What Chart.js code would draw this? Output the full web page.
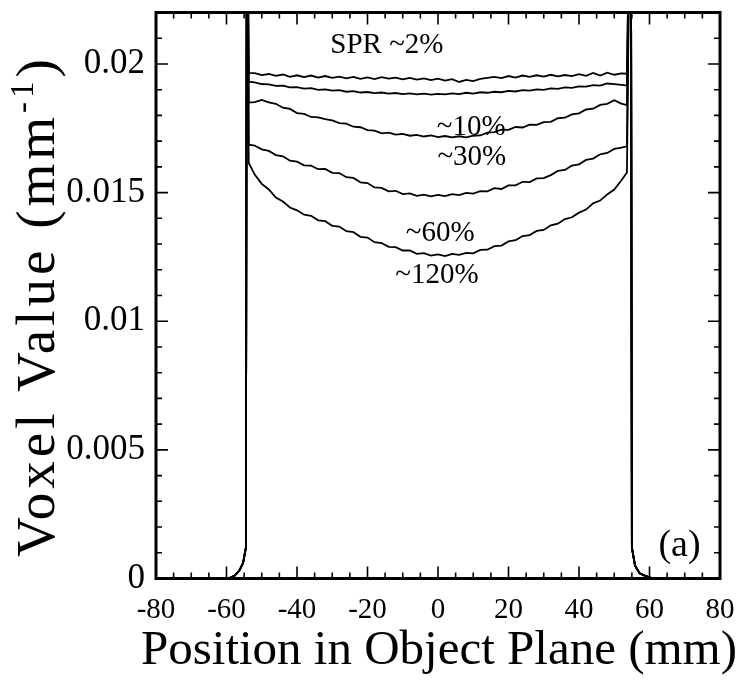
<!DOCTYPE html>
<html>
<head>
<meta charset="utf-8">
<script src="https://cdn.jsdelivr.net/npm/chart.js@4"></script>
<style>
  html, body { margin: 0; background: #fff; }
</style>
</head>
<body>
<canvas id="chart" width="742" height="687"></canvas>
<script>
// position across the object (mm), interior samples
const xPos = [-52, -50, -48, -46, -44, -42, -40, -38, -36, -34, -32, -30, -28, -26, -24, -22, -20, -18,
  -16, -14, -12, -10, -8, -6, -4, -2, 0, 2, 4, 6, 8, 10, 12, 14, 16, 18, 20, 22, 24, 26, 28, 30, 32, 34,
  36, 38, 40, 42, 44, 46, 48, 50, 52];

// voxel values (mm^-1)
const spr2 = [0.01964, 0.01957, 0.01961, 0.01954, 0.01959, 0.01950, 0.01956, 0.01949, 0.01955, 0.01947,
  0.01953, 0.01946, 0.01951, 0.01944, 0.01950, 0.01942, 0.01948, 0.01941, 0.01949, 0.01943, 0.01947,
  0.01940, 0.01946, 0.01939, 0.01944, 0.01937, 0.01943, 0.01935, 0.01941, 0.01930, 0.01938, 0.01933,
  0.01942, 0.01946, 0.01950, 0.01945, 0.01953, 0.01947, 0.01955, 0.01950, 0.01956, 0.01951, 0.01958,
  0.01952, 0.01957, 0.01953, 0.01960, 0.01954, 0.01965, 0.01955, 0.01966, 0.01958, 0.01963];
const spr10 = [0.01928, 0.01922, 0.01921, 0.01915, 0.01916, 0.01909, 0.01910, 0.01904, 0.01906, 0.01899,
  0.01901, 0.01896, 0.01898, 0.01892, 0.01894, 0.01889, 0.01891, 0.01887, 0.01889, 0.01885, 0.01887,
  0.01883, 0.01886, 0.01882, 0.01885, 0.01881, 0.01884, 0.01882, 0.01886, 0.01883, 0.01888, 0.01885,
  0.01890, 0.01888, 0.01892, 0.01890, 0.01895, 0.01893, 0.01898, 0.01896, 0.01901, 0.01899, 0.01905,
  0.01903, 0.01909, 0.01907, 0.01913, 0.01912, 0.01918, 0.01916, 0.01924, 0.01922, 0.01919];
const spr30 = [0.01852, 0.01860, 0.01851, 0.01845, 0.01830, 0.01825, 0.01809, 0.01806, 0.01794, 0.01792,
  0.01786, 0.01781, 0.01770, 0.01768, 0.01756, 0.01754, 0.01743, 0.01741, 0.01730, 0.01733, 0.01725,
  0.01728, 0.01721, 0.01724, 0.01718, 0.01722, 0.01716, 0.01720, 0.01715, 0.01719, 0.01715, 0.01721,
  0.01722, 0.01733, 0.01735, 0.01745, 0.01744, 0.01755, 0.01753, 0.01764, 0.01763, 0.01774, 0.01775,
  0.01789, 0.01791, 0.01804, 0.01808, 0.01823, 0.01826, 0.01841, 0.01845, 0.01859, 0.01846];
const spr60 = [0.01683, 0.01668, 0.01662, 0.01646, 0.01641, 0.01624, 0.01620, 0.01606, 0.01605, 0.01591,
  0.01592, 0.01577, 0.01576, 0.01560, 0.01557, 0.01540, 0.01537, 0.01520, 0.01518, 0.01505, 0.01507,
  0.01494, 0.01497, 0.01487, 0.01492, 0.01485, 0.01491, 0.01486, 0.01494, 0.01490, 0.01499, 0.01496,
  0.01506, 0.01505, 0.01517, 0.01514, 0.01528, 0.01528, 0.01542, 0.01541, 0.01555, 0.01556, 0.01568,
  0.01584, 0.01588, 0.01605, 0.01610, 0.01627, 0.01632, 0.01649, 0.01654, 0.01670, 0.01675];
const spr120 = [0.01570, 0.01534, 0.01512, 0.01481, 0.01465, 0.01442, 0.01431, 0.01414, 0.01410, 0.01392,
  0.01389, 0.01371, 0.01368, 0.01350, 0.01346, 0.01328, 0.01325, 0.01307, 0.01304, 0.01289, 0.01288,
  0.01275, 0.01275, 0.01262, 0.01265, 0.01255, 0.01260, 0.01253, 0.01262, 0.01258, 0.01266, 0.01264,
  0.01277, 0.01278, 0.01292, 0.01294, 0.01310, 0.01315, 0.01331, 0.01335, 0.01351, 0.01355, 0.01373,
  0.01379, 0.01397, 0.01404, 0.01422, 0.01434, 0.01458, 0.01469, 0.01493, 0.01512, 0.01547];

// values just inside each edge of the object
const edgeLeftX = -53.7, edgeRightX = 53.6;
const edgeLeft = [0.01965, 0.01931, 0.01850, 0.01686, 0.01615];
const edgeRight = [0.01962, 0.01916, 0.01840, 0.01680, 0.01578];

// air outside the object and the edge overshoot (goes off the top)
const footLeftX = [-80, -59.5, -57.8, -56.4, -55.3, -54.5, -54.2];
const footLeftY = [0, 0, 0.0001, 0.0003, 0.0006, 0.0012, 0.03];
const footRightX = [54.7, 55.0, 55.9, 57.2, 58.8, 61, 80];
const footRightY = [0.03, 0.0012, 0.0005, 0.0002, 0.0001, 0, 0];

const seriesNames = ['SPR ~2%', '~10%', '~30%', '~60%', '~120%'];
const seriesValues = [spr2, spr10, spr30, spr60, spr120];

// axis ticks
const xMajor = [-80, -60, -40, -20, 0, 20, 40, 60, 80];
const xMinor = [-75, -70, -65, -55, -50, -45, -35, -30, -25, -15, -10, -5, 5, 10, 15, 25, 30, 35, 45, 50, 55, 65, 70, 75];
const yMajor = [0, 0.005, 0.01, 0.015, 0.02];
const yMinor = [0.001, 0.002, 0.003, 0.004, 0.006, 0.007, 0.008, 0.009, 0.011, 0.012, 0.013, 0.014,
  0.016, 0.017, 0.018, 0.019, 0.021];

// curve labels: text, x (mm), y (value), font size
const labels = [
  ['SPR ~2%', -14.5, 0.02071, 29],
  ['~10%', 9.4, 0.01753, 29],
  ['~30%', 9.6, 0.01636, 29],
  ['~60%', 0.6, 0.01341, 29],
  ['~120%', -0.3, 0.01178, 29],
  ['(a)', 68.5, 0.00128, 38]
];

const xTitle = 'Position in Object Plane (mm)';
const yTitle = 'Voxel Value (mm';

const SERIF = '"Liberation Serif", "DejaVu Serif", serif';

function buildPoints(i) {
  const pts = [];
  footLeftX.forEach((x, k) => pts.push({ x: x, y: footLeftY[k] }));
  pts.push({ x: edgeLeftX, y: edgeLeft[i] });
  xPos.forEach((x, k) => pts.push({ x: x, y: seriesValues[i][k] }));
  pts.push({ x: edgeRightX, y: edgeRight[i] });
  footRightX.forEach((x, k) => pts.push({ x: x, y: footRightY[k] }));
  return pts;
}

const frameAndText = {
  id: 'frameAndText',
  afterDatasetsDraw(chart) {
    const ctx = chart.ctx;
    const a = chart.chartArea;
    const xs = chart.scales.x, ys = chart.scales.y;
    ctx.save();
    ctx.strokeStyle = '#000';
    // inward ticks on all four sides
    ctx.lineWidth = 1.6;
    const tickX = (vals, len) => vals.forEach(v => {
      const p = xs.getPixelForValue(v);
      ctx.beginPath();
      ctx.moveTo(p, a.bottom); ctx.lineTo(p, a.bottom - len);
      ctx.moveTo(p, a.top); ctx.lineTo(p, a.top + len);
      ctx.stroke();
    });
    const tickY = (vals, len) => vals.forEach(v => {
      const p = ys.getPixelForValue(v);
      ctx.beginPath();
      ctx.moveTo(a.left, p); ctx.lineTo(a.left + len, p);
      ctx.moveTo(a.right, p); ctx.lineTo(a.right - len, p);
      ctx.stroke();
    });
    tickX(xMajor, 12); tickX(xMinor, 6);
    tickY(yMajor, 12); tickY(yMinor, 6);
    // frame
    ctx.lineWidth = 3;
    ctx.strokeRect(a.left, a.top, a.right - a.left, a.bottom - a.top);

    // curve labels
    ctx.fillStyle = '#000';
    ctx.textAlign = 'center';
    ctx.textBaseline = 'middle';
    labels.forEach(([t, x, y, size]) => {
      ctx.font = size + 'px ' + SERIF;
      ctx.fillText(t, xs.getPixelForValue(x), ys.getPixelForValue(y));
    });

    // x axis title (no width squeeze)
    ctx.textBaseline = 'alphabetic';
    ctx.font = '49px ' + SERIF;
    ctx.fillText(xTitle, (a.left + a.right) / 2 + 1, 664);

    // y axis title with superscript
    ctx.translate(36, 306);
    ctx.rotate(-Math.PI / 2);
    ctx.letterSpacing = '4px';
    ctx.font = '55px ' + SERIF;
    const w1 = ctx.measureText(yTitle).width;
    ctx.font = '33px ' + SERIF;
    const w2 = ctx.measureText('-1').width;
    ctx.font = '55px ' + SERIF;
    const w3 = ctx.measureText(')').width;
    const x0 = -(w1 + w2 + w3) / 2;
    ctx.textAlign = 'left';
    const base = 18;
    ctx.fillText(yTitle, x0, base);
    ctx.font = '33px ' + SERIF;
    ctx.fillText('-1', x0 + w1, base - 21);
    ctx.font = '55px ' + SERIF;
    ctx.fillText(')', x0 + w1 + w2, base);
    ctx.restore();
  }
};

new Chart(document.getElementById('chart').getContext('2d'), {
  type: 'scatter',
  data: {
    datasets: seriesNames.map((name, i) => ({
      label: name,
      data: buildPoints(i),
      showLine: true,
      borderColor: '#000',
      borderWidth: 1.8,
      pointRadius: 0,
      tension: 0
    }))
  },
  options: {
    responsive: false,
    animation: false,
    devicePixelRatio: 1,
    layout: { padding: { top: 12.5, right: 22, left: 0, bottom: 0 } },
    plugins: { legend: { display: false }, tooltip: { enabled: false } },
    scales: {
      x: {
        type: 'linear',
        min: -80,
        max: 80,
        grid: { display: false, drawTicks: false },
        border: { display: false },
        ticks: {
          stepSize: 20,
          includeBounds: false,
          padding: 14,
          color: '#000',
          font: { family: SERIF, size: 29 },
          maxRotation: 0
        },
        afterFit: s => { s.height = 108.5; s.paddingLeft = 0; s.paddingRight = 0; }
      },
      y: {
        min: 0,
        max: 0.022,
        grid: { display: false, drawTicks: false },
        border: { display: false },
        ticks: {
          stepSize: 0.005,
          includeBounds: false,
          padding: 11,
          color: '#000',
          font: { family: SERIF, size: 35 },
          callback: v => String(+v.toFixed(3))
        },
        afterFit: s => { s.width = 156; s.paddingTop = 0; s.paddingBottom = 0; }
      }
    }
  },
  plugins: [frameAndText]
});
</script>
</body>
</html>
